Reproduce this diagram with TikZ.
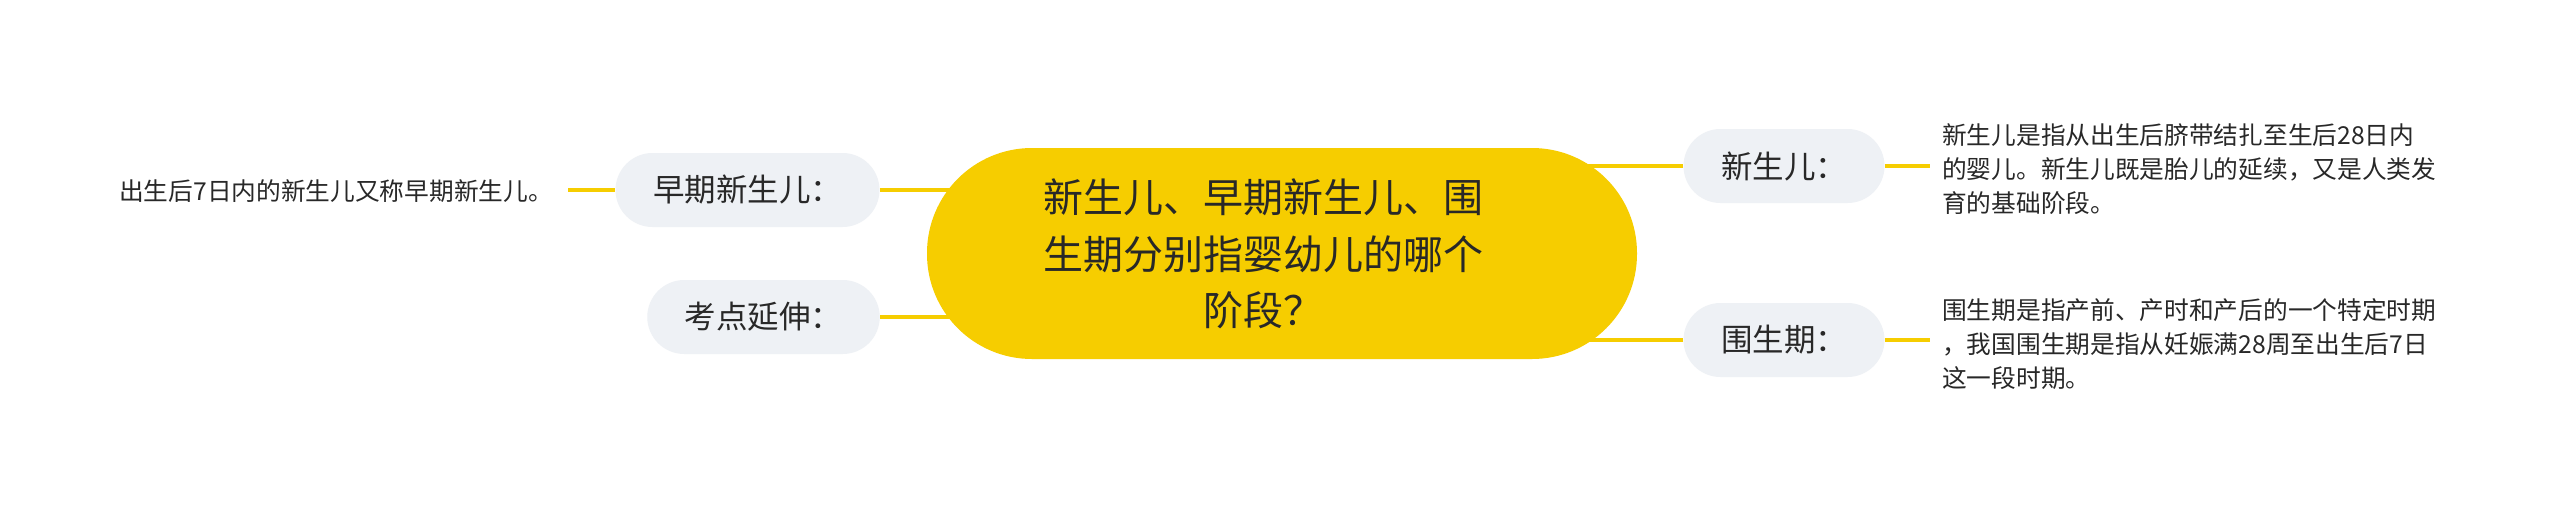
\documentclass[tikz,border=0pt]{standalone}
\usepackage{fontspec}
\setmainfont{Noto Sans CJK SC}
\usetikzlibrary{positioning,backgrounds}
\definecolor{topicyellow}{RGB}{246,205,0}
\definecolor{pillgray}{RGB}{238,241,245}
\definecolor{inkgray}{RGB}{40,40,40}

\begin{document}
\begin{tikzpicture}[x=1pt,y=-1pt,
  topic/.style={fill=topicyellow, rounded corners=105pt, minimum width=710pt, minimum height=211pt},
  topictext/.style={align=center, inner sep=0pt, text=inkgray, font=\fontsize{40}{56.5}\selectfont},
  pill/.style={fill=pillgray, rounded corners=37pt, minimum height=74pt, inner xsep=37.5pt, text=inkgray, font=\fontsize{31.5}{38}\selectfont},
  note/.style={align=left, inner sep=0pt, text=inkgray, font=\fontsize{24.7}{34}\selectfont},
  branch/.style={draw=topicyellow, line width=3.5pt}
  ]
  \useasboundingbox (0,0) rectangle (2560,507);

  % central topic
  \node[topic] (topic) at (1282,253.5) {};
  \node[topictext] (topictxt) at (1263,254) {新生儿、早期新生儿、围\\生期分别指婴幼儿的哪个\\阶段？};

  % branches
  \node[pill] (zaoqi) at (747.5,190) {早期新生儿：};
  \node[pill] (kaodian) at (763.5,317) {考点延伸：};
  \node[pill] (xinsheng) at (1784,166) {新生儿：};
  \node[pill] (weisheng) at (1784,340) {围生期：};

  % notes
  \node[note, anchor=east] (zaoqinote) at (553,191) {出生后7日内的新生儿又称早期新生儿。};
  \node[note, anchor=west] (xinshengnote) at (1942,169) {新生儿是指从出生后脐带结扎至生后28日内\\的婴儿。新生儿既是胎儿的延续，又是人类发\\育的基础阶段。};
  \node[note, anchor=west] (weishengnote) at (1942,344) {围生期是指产前、产时和产后的一个特定时期\\，我国围生期是指从妊娠满28周至出生后7日\\这一段时期。};

  \begin{pgfonlayer}{background}
    \fill[white] (0,0) rectangle (2560,507);
    \draw[branch] (zaoqi.east) -- ([xshift=60]topic.west |- zaoqi.east);
    \draw[branch] (kaodian.east) -- ([xshift=60]topic.west |- kaodian.east);
    \draw[branch] (xinsheng.west) -- ([xshift=-60]topic.east |- xinsheng.west);
    \draw[branch] (weisheng.west) -- ([xshift=-60]topic.east |- weisheng.west);
    \draw[branch] ([xshift=15]zaoqinote.east |- zaoqi.west) -- (zaoqi.west);
    \draw[branch] (xinsheng.east) -- ([xshift=-12]xinshengnote.west |- xinsheng.east);
    \draw[branch] (weisheng.east) -- ([xshift=-12]weishengnote.west |- weisheng.east);
  \end{pgfonlayer}
\end{tikzpicture}
\end{document}
